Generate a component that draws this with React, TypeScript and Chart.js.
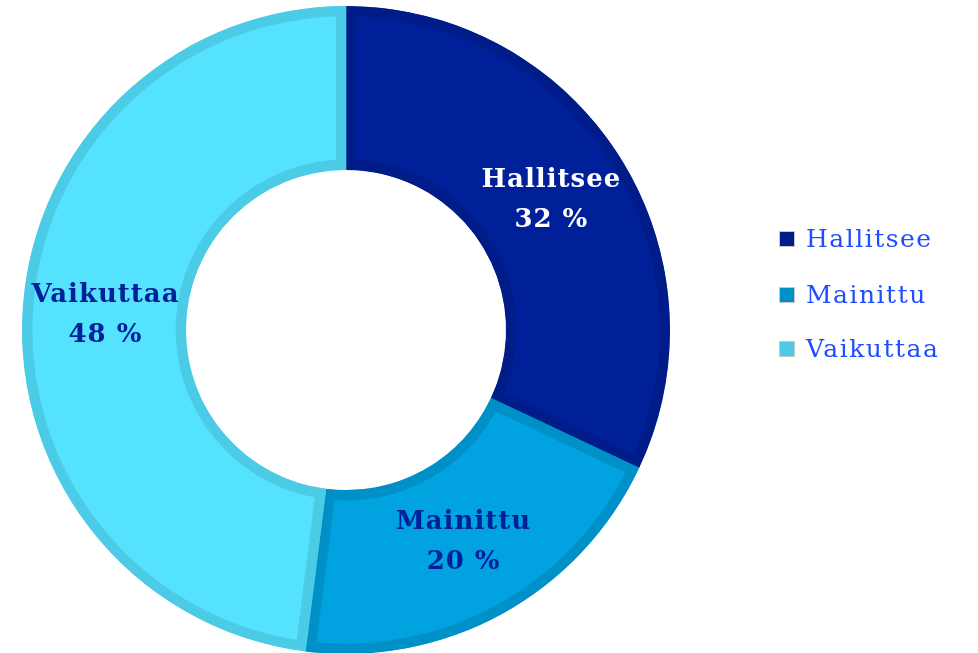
import React, { useEffect, useRef } from "react";
import { Chart, registerables } from "chart.js";

Chart.register(...registerables);

const categories = ["Hallitsee", "Mainittu", "Vaikuttaa"];
const shares = [32, 20, 48];
const valueLabels = ["32 %", "20 %", "48 %"];
const fillColors = ["#00209a", "#00a2e0", "#55e2ff"];
const borderColors = ["#001c88", "#0090c8", "#4ccbe6"];
const labelColors = ["#ffffff", "#00209a", "#00209a"];
const legendTextColor = "#1f4dff";

const FONT = "'DejaVu Serif', 'Liberation Serif', serif";

const labelPlugin = {
  id: "sliceLabels",
  afterDatasetsDraw(chart: any) {
    const ctx = chart.ctx;
    const meta = chart.getDatasetMeta(0);
    ctx.save();
    ctx.textAlign = "center";
    ctx.textBaseline = "middle";
    (ctx as any).letterSpacing = "1px";
    meta.data.forEach((arc: any, i: number) => {
      const p = arc.tooltipPosition();
      ctx.fillStyle = labelColors[i];
      ctx.font = `bold 26px ${FONT}`;
      ctx.fillText(categories[i], p.x + 1, p.y - 20);
      ctx.fillText(valueLabels[i], p.x + 1, p.y + 20);
    });
    ctx.restore();
  },
};

const legendPlugin = {
  id: "sideLegend",
  afterDraw(chart: any) {
    const ctx = chart.ctx;
    const x0 = 779;
    const yCenters = [239, 295, 349];
    ctx.save();
    ctx.textBaseline = "middle";
    ctx.textAlign = "left";
    (ctx as any).letterSpacing = "1.5px";
    categories.forEach((c, i) => {
      const y = yCenters[i];
      ctx.fillStyle = borderColors[i];
      ctx.fillRect(x0, y - 8, 16, 16);
      ctx.strokeStyle = "#c8c8c8";
      ctx.lineWidth = 1;
      ctx.strokeRect(x0 + 0.5, y - 7.5, 15, 15);
      ctx.fillStyle = legendTextColor;
      ctx.font = `25px ${FONT}`;
      ctx.fillText(c, x0 + 27, y + 1);
    });
    ctx.restore();
  },
};

export default function App() {
  const ref = useRef<HTMLCanvasElement>(null);
  useEffect(() => {
    document.body.style.margin = "0";
    const chart = new Chart(ref.current!, {
      type: "doughnut",
      data: {
        labels: categories,
        datasets: [
          {
            data: shares,
            backgroundColor: fillColors,
            borderColor: borderColors,
            borderWidth: 10,
            borderAlign: "inner",
            hoverOffset: 0,
            radius: 324,
          } as any,
        ],
      },
      options: {
        responsive: false,
        animation: false,
        cutout: "49.4%",
        layout: { padding: { left: 0, right: 286, top: 7, bottom: 0 } },
        plugins: {
          legend: { display: false },
          tooltip: { enabled: false },
        },
        events: [],
      } as any,
      plugins: [labelPlugin, legendPlugin],
    });
    return () => chart.destroy();
  }, []);
  return (
    <div style={{ position: "fixed", left: 0, top: 0, width: 978, height: 653 }}>
      <canvas ref={ref} width={978} height={653} />
    </div>
  );
}
